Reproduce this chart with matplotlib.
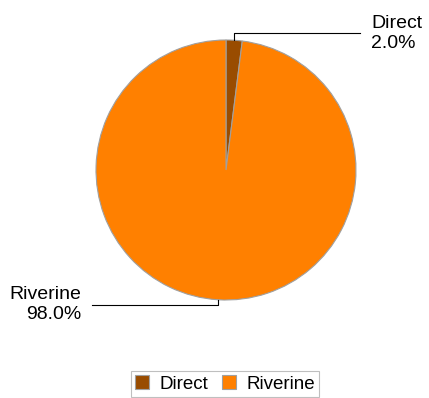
import numpy as np
import matplotlib
matplotlib.use("Agg")
import matplotlib.pyplot as plt

categories = ["Direct", "Riverine"]
values = [2.0, 98.0]
colors = ["#994c00", "#ff8000"]

plt.rcParams['font.family'] = ['Liberation Sans', 'DejaVu Sans']

W, H = 429, 398
fig = plt.figure(figsize=(W/100, H/100), dpi=100)
ax = fig.add_axes([0, 0, 1, 1])
ax.axis('off')

def Y(yp):
    return H - yp

cx, cy, r = 226, Y(170), 130
wedges, _ = ax.pie(values, colors=colors, startangle=90, counterclock=False,
                   center=(cx, cy), radius=r,
                   wedgeprops=dict(edgecolor="#a0a0a0", linewidth=0.8))
ax.set_xlim(0, W)
ax.set_ylim(0, H)
ax.set_aspect('equal')

fs = 14
total = sum(values)
for w, cat, v in zip(wedges, categories, values):
    mid = np.deg2rad((w.theta1 + w.theta2) / 2)
    px = cx + r*np.cos(mid)
    py = cy + r*np.sin(mid)
    label = f"{cat}\n{v/total*100:.1f}%"
    if px >= cx:
        ly = py + 7
        ax.plot([px, px, 360], [py, ly, ly], color="black", lw=0.8)
        ax.text(371, ly, label, ha="left", va="center", fontsize=fs,
                linespacing=1.25, multialignment="left")
    else:
        ly = py - 5
        ax.plot([px, px, 92], [py, ly, ly], color="black", lw=0.8)
        ax.text(81, ly, label, ha="right", va="center", fontsize=fs,
                linespacing=1.25, multialignment="right")

leg = fig.legend(wedges, categories, loc="center", bbox_to_anchor=(225/W, 1 - 384/H),
                 ncol=2, fontsize=fs - 0.5, frameon=True, fancybox=False,
                 handlelength=0.75, handleheight=0.75, handletextpad=0.55,
                 columnspacing=0.7, borderpad=0.25, borderaxespad=0)
leg.get_frame().set_edgecolor("#b0b0b0")
leg.get_frame().set_linewidth(0.8)
for h in leg.legend_handles:
    h.set_edgecolor("#a0a0a0")

fig.savefig("out.png", dpi=100)
